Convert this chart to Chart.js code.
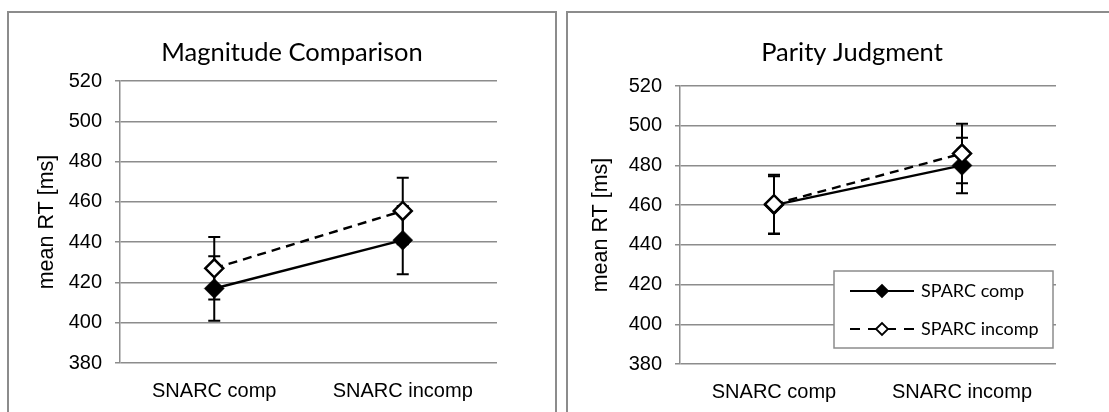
<!DOCTYPE html>
<html>
<head>
<meta charset="utf-8">
<script src="https://cdn.jsdelivr.net/npm/chart.js@4/dist/chart.umd.min.js"></script>
<style>
  html, body { margin: 0; padding: 0; background: #ffffff; }
  body { width: 1109px; height: 412px; position: relative; overflow: hidden; }
  .panel { position: absolute; border: 2px solid #8c8c8c; border-bottom: none; box-sizing: border-box; }
  #p1 { left: 7px; top: 11px; width: 550px; height: 430px; }
  #p2 { left: 566px; top: 11px; width: 560px; height: 430px; border-right: none; }
  canvas { position: absolute; top: 0; }
  #c1 { left: 0px; }
  #c2 { left: 560px; }
</style>
</head>
<body>
<div class="panel" id="p1"></div>
<div class="panel" id="p2"></div>
<canvas id="c1" width="556" height="412"></canvas>
<canvas id="c2" width="549" height="412"></canvas>
<script>
// ---- data ----
const categories = ['SNARC comp', 'SNARC incomp'];
const seriesNames = ['SPARC comp', 'SPARC incomp'];
const yTicks = [380, 400, 420, 440, 460, 480, 500, 520];

const magComp = [417, 441];
const magCompErr = [16, 17];
const magIncomp = [427, 455.5];
const magIncompErr = [15.5, 16.5];

const parComp = [460, 480];
const parCompErr = [14.5, 14];
const parIncomp = [460.5, 486];
const parIncompErr = [14.8, 15];

const titles = ['Magnitude Comparison', 'Parity Judgment'];
const yTitle = 'mean RT [ms]';

// ---- plugins ----
const errorBars = {
  id: 'errorBars',
  beforeDatasetsDraw(chart) {
    const ctx = chart.ctx;
    const xs = chart.scales.x, ys = chart.scales.y;
    ctx.save();
    ctx.strokeStyle = '#000';
    ctx.lineWidth = 2;
    chart.data.datasets.forEach(ds => {
      ds.data.forEach((v, i) => {
        const e = ds.errors[i];
        const x = xs.getPixelForValue(i);
        const yt = ys.getPixelForValue(v + e);
        const yb = ys.getPixelForValue(v - e);
        const cw = 6;
        ctx.beginPath();
        ctx.moveTo(x, yt); ctx.lineTo(x, yb);
        ctx.moveTo(x - cw, yt); ctx.lineTo(x + cw, yt);
        ctx.moveTo(x - cw, yb); ctx.lineTo(x + cw, yb);
        ctx.stroke();
      });
    });
    ctx.restore();
  }
};

const panelTitle = {
  id: 'panelTitle',
  afterDraw(chart, args, opts) {
    const ctx = chart.ctx;
    ctx.save();
    ctx.fillStyle = '#000';
    ctx.font = opts.font;
    ctx.textAlign = 'center';
    ctx.textBaseline = 'middle';
    ctx.fillText(opts.text, opts.x, opts.y);
    ctx.restore();
  }
};

const boxLegend = {
  id: 'boxLegend',
  afterDatasetsDraw(chart, args, opts) {
    if (!opts.show) return;
    const ctx = chart.ctx;
    const b = opts.box;
    ctx.save();
    ctx.fillStyle = '#fff';
    ctx.fillRect(b.x, b.y, b.w, b.h);
    ctx.strokeStyle = '#8c8c8c';
    ctx.lineWidth = 1.5;
    ctx.strokeRect(b.x, b.y, b.w, b.h);
    chart.data.datasets.forEach((ds, i) => {
      const y = opts.rows[i];
      ctx.strokeStyle = '#000';
      ctx.lineWidth = 2.2;
      ctx.setLineDash(ds.borderDash ? [10, 8] : []);
      ctx.beginPath();
      ctx.moveTo(opts.lineX0, y); ctx.lineTo(opts.lineX1, y);
      ctx.stroke();
      ctx.setLineDash([]);
      const mx = (opts.lineX0 + opts.lineX1) / 2, r = 6;
      ctx.beginPath();
      ctx.moveTo(mx - r, y); ctx.lineTo(mx, y - r); ctx.lineTo(mx + r, y); ctx.lineTo(mx, y + r); ctx.closePath();
      ctx.fillStyle = ds.pointBackgroundColor;
      ctx.fill();
      ctx.lineWidth = 1.8;
      ctx.stroke();
      ctx.fillStyle = '#000';
      ctx.font = opts.font;
      ctx.textAlign = 'left';
      ctx.textBaseline = 'middle';
      ctx.fillText(ds.label, opts.textX, y);
    });
    ctx.restore();
  }
};

function makeChart(id, comp, compErr, incomp, incompErr, cfg) {
  return new Chart(document.getElementById(id), {
    type: 'line',
    data: {
      labels: categories,
      datasets: [
        {
          label: seriesNames[0], data: comp, errors: compErr,
          borderColor: '#000', borderWidth: 2.4,
          pointStyle: 'rectRot', pointRadius: 10, pointBackgroundColor: '#000',
          pointBorderColor: '#000', pointBorderWidth: 0.5, order: 2
        },
        {
          label: seriesNames[1], data: incomp, errors: incompErr,
          borderColor: '#000', borderWidth: 2.4, borderDash: [9, 6],
          pointStyle: 'rectRot', pointRadius: 9, pointBackgroundColor: '#fff',
          pointBorderColor: '#000', pointBorderWidth: 2.5, order: 1
        }
      ]
    },
    options: {
      responsive: false,
      animation: false,
      events: [],
      layout: { padding: { top: cfg.top, right: cfg.right, bottom: 0, left: 0 } },
      plugins: {
        legend: { display: false },
        tooltip: { enabled: false },
        panelTitle: { text: cfg.title, x: 292, y: 53, font: '25.5px Lato' },
        boxLegend: cfg.legend
      },
      scales: {
        x: {
          offset: true,
          grid: { display: false },
          border: { display: false },
          ticks: { color: '#000', font: { family: 'Liberation Sans', size: 20 }, padding: 8 },
          afterFit(s) { s.height = cfg.xh; }
        },
        y: {
          min: 380, max: 520,
          afterBuildTicks(s) { s.ticks = yTicks.map(v => ({ value: v })); },
          grid: { color: '#8c8c8c', lineWidth: 1.5, tickLength: 5, drawTicks: true },
          border: { display: true, color: '#8c8c8c', width: 1.5 },
          ticks: { color: '#000', font: { family: 'Liberation Sans', size: 20 }, padding: 13 },
          title: { display: true, text: yTitle, color: '#000',
                   font: { family: 'Liberation Sans', size: 21.5 }, padding: { top: cfg.ytp, bottom: 0 } },
          afterFit(s) { s.width = 120; }
        }
      }
    },
    plugins: [errorBars, panelTitle, boxLegend]
  });
}

makeChart('c1', magComp, magCompErr, magIncomp, magIncompErr, {
  title: titles[0], top: 81, right: 59, xh: 49, ytp: 34,
  legend: { show: false }
});
makeChart('c2', parComp, parCompErr, parIncomp, parIncompErr, {
  title: titles[1], top: 86, right: 53, xh: 48, ytp: 28,
  legend: {
    show: true,
    box: { x: 274, y: 271, w: 219, h: 77 },
    rows: [291, 329],
    lineX0: 290, lineX1: 354, textX: 361,
    font: '18px Lato'
  }
});
</script>
</body>
</html>
